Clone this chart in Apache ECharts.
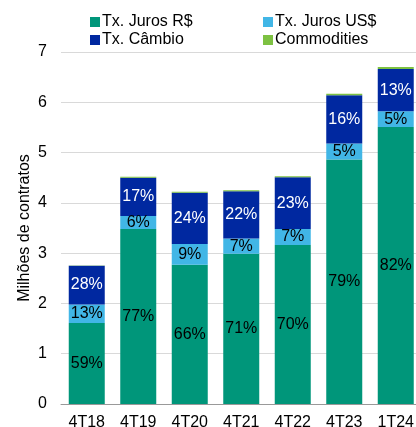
<!DOCTYPE html>
<html lang="pt">
<head>
    <meta charset="UTF-8">
    <title>Contratos</title>
    <script src="https://cdn.jsdelivr.net/npm/echarts@6/dist/echarts.min.js"></script>
    <style>
        body { margin: 0; }
    </style>
</head>
<body>
    <div id="main" style="width: 416px;height:427px;"></div>
    <script type="text/javascript">
        // data (milhoes de contratos)
        const categories = ['4T18', '4T19', '4T20', '4T21', '4T22', '4T23', '1T24'];
        const jurosBRL = [1.61, 3.48, 2.77, 2.99, 3.16, 4.86, 5.51];
        const jurosUSD = [0.37, 0.26, 0.41, 0.30, 0.32, 0.32, 0.31];
        const cambio = [0.77, 0.76, 1.02, 0.94, 1.03, 0.96, 0.84];
        const commodities = [0.005, 0.02, 0.02, 0.02, 0.02, 0.03, 0.04];
        // percentages shown inside the bars
        const pctBRL = ['59%', '77%', '66%', '71%', '70%', '79%', '82%'];
        const pctUSD = ['13%', '6%', '9%', '7%', '7%', '5%', '5%'];
        const pctCambio = ['28%', '17%', '24%', '22%', '23%', '16%', '13%'];
        const yTicks = [0, 1, 2, 3, 4, 5, 6, 7];

        const font = 'Liberation Sans, Arial, sans-serif';

        function pctLabel(texts, color) {
            return {
                show: true,
                position: 'inside',
                color: color,
                fontSize: 16,
                fontFamily: font,
                formatter: p => texts[p.dataIndex]
            };
        }

        let options = {
            animation: false,
            legend: [{
                left: 85, top: 9, orient: 'vertical',
                itemWidth: 10, itemHeight: 10, itemGap: 2, icon: 'rect',
                textStyle: { fontSize: 16, fontFamily: font, color: '#000', lineHeight: 16, padding: [0, 0, 0, -3] },
                data: ['Tx. Juros R$', 'Tx. Câmbio']
            }, {
                left: 258, top: 9, orient: 'vertical',
                itemWidth: 10, itemHeight: 10, itemGap: 2, icon: 'rect',
                textStyle: { fontSize: 16, fontFamily: font, color: '#000', lineHeight: 16, padding: [0, 0, 0, -3] },
                data: ['Tx. Juros US$', 'Commodities']
            }],
            grid: { left: 61, top: 52, bottom: 23, width: 360.5, containLabel: false, outerBoundsMode: 'none' },
            xAxis: {
                type: 'category',
                data: categories,
                axisTick: { show: false },
                axisLine: { lineStyle: { color: '#999', width: 1 } },
                axisLabel: { fontSize: 16, fontFamily: font, color: '#000', margin: 11 }
            },
            yAxis: {
                type: 'value',
                min: yTicks[0], max: yTicks[yTicks.length - 1], interval: 1,
                name: 'Milhões de contratos',
                nameLocation: 'middle',
                nameGap: 28,
                nameMoveOverlap: false,
                nameTextStyle: { fontSize: 16, fontFamily: font, color: '#000' },
                axisLabel: { fontSize: 16, fontFamily: font, color: '#000', margin: 14 },
                splitLine: { lineStyle: { color: '#d9d9d9' } }
            },
            series: [{
                name: 'Tx. Juros R$', type: 'bar', stack: 't', barWidth: 36,
                itemStyle: { color: '#00967a' },
                label: pctLabel(pctBRL, '#000'),
                data: jurosBRL
            }, {
                name: 'Tx. Juros US$', type: 'bar', stack: 't', barWidth: 36,
                itemStyle: { color: '#41b6e6' },
                label: pctLabel(pctUSD, '#000'),
                data: jurosUSD
            }, {
                name: 'Tx. Câmbio', type: 'bar', stack: 't', barWidth: 36,
                itemStyle: { color: '#0028a0' },
                label: pctLabel(pctCambio, '#fff'),
                data: cambio
            }, {
                name: 'Commodities', type: 'bar', stack: 't', barWidth: 36,
                itemStyle: { color: '#7dc142' },
                data: commodities
            }]
        };

        let myChart = echarts.init(document.getElementById('main'));
        myChart.setOption(options);
    </script>
</body>
</html>
